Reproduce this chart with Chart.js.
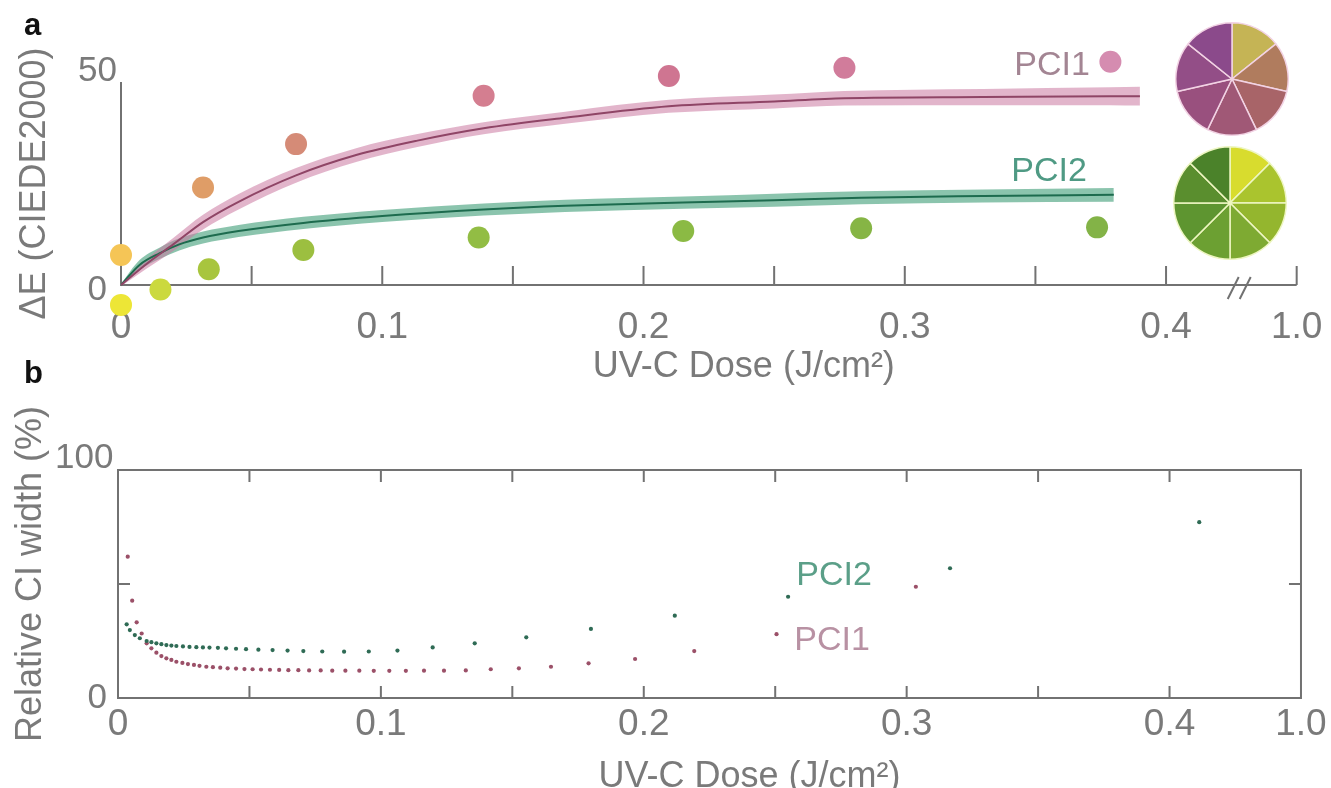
<!DOCTYPE html>
<html>
<head>
<meta charset="utf-8">
<script src="https://cdn.jsdelivr.net/npm/chart.js@4.4.1/dist/chart.umd.min.js"></script>
<style>
  html, body { margin: 0; padding: 0; background: #fff; overflow: hidden; }
  #page { position: relative; width: 1331px; height: 788px; overflow: hidden; background: #fff; }
  canvas { position: absolute; }
  .lbl { position: absolute; font-family: 'Liberation Sans', Arial, sans-serif; line-height: 1; white-space: nowrap; }
  .panel { font-weight: bold; font-size: 31px; color: #111; }
  .pci { font-size: 34px; transform: translate(-50%, -50%); }
</style>
</head>
<body>
<div id="page">
  <canvas id="chartA" width="1331" height="400" style="left:0;top:0"></canvas>
  <canvas id="chartB" width="1331" height="420" style="left:0;top:400px"></canvas>
  <canvas id="pie1" width="114" height="114" style="left:1175px;top:22px"></canvas>
  <canvas id="pie2" width="114" height="114" style="left:1173px;top:146px"></canvas>
  <div class="lbl panel" style="left:24px;top:9px">a</div>
  <div class="lbl panel" style="left:24px;top:357px">b</div>
  <div class="lbl pci" style="left:1052px;top:63px;color:#a38593">PCI1</div>
  <div class="lbl pci" style="left:1049px;top:169px;color:#4f9a84">PCI2</div>
  <div class="lbl pci" style="left:834px;top:573px;color:#5b9f88">PCI2</div>
  <div class="lbl pci" style="left:832px;top:638px;color:#b891a3">PCI1</div>
</div>
<script>
// x axis: 0..0.4 linear, the "1.0" tick sits after the axis break
const xTickValues = [0, 0.05, 0.1, 0.15, 0.2, 0.25, 0.3, 0.35, 0.4, 0.45]
const xTickLabels = ['0', '', '0.1', '', '0.2', '', '0.3', '', '0.4', '1.0']

// panel a - measured colour difference
const pci1DoseX = [0, 0.0314, 0.067, 0.1388, 0.2097, 0.2769, 0.3787]
const pci1DeltaE = [7.4, 24, 34.7, 46.6, 51.5, 53.5, 55]
const pci1Colors = ['#f5c556', '#df9d67', '#d58b77', '#d47e90', '#cf7591', '#d17c9b', '#d58cb0']
const pci2DoseX = [0, 0.0151, 0.0336, 0.0698, 0.1369, 0.2152, 0.2833, 0.3736]
const pci2DeltaE = [-4.9, -1.1, 3.9, 8.6, 11.7, 13.3, 14, 14.2]
const pci2Colors = ['#ede636', '#cbd93e', '#a8c53e', '#9cbf40', '#92bd44', '#8bba44', '#86b545', '#83b347']

// panel a - fitted curves with confidence band
const pci1FitX = [0, 0.01, 0.02, 0.0314, 0.045, 0.067, 0.09, 0.113, 0.1388, 0.17, 0.2097, 0.25, 0.2769, 0.33, 0.3787, 0.39]
const pci1FitY = [0, 5.3, 10, 15.5, 20.5, 27, 32, 35.5, 38.6, 41.2, 44, 45.2, 46, 46.3, 46.5, 46.5]
const pci1FitHi = [0.3, 6.5, 11.6, 17.3, 22.4, 28.8, 33.7, 37.1, 40.1, 42.7, 45.6, 46.9, 47.8, 48.3, 48.7, 48.8]
const pci1FitLo = [-0.3, 4.1, 8.4, 13.7, 18.6, 25.2, 30.3, 33.9, 37.1, 39.7, 42.4, 43.5, 44.2, 44.3, 44.3, 44.2]
const pci2FitX = [0, 0.0072, 0.0147, 0.0223, 0.0314, 0.045, 0.0698, 0.1, 0.1388, 0.17, 0.2152, 0.25, 0.2833, 0.33, 0.38]
const pci2FitY = [0, 5, 7.8, 10, 11.7, 13.3, 15.3, 17, 18.6, 19.5, 20.3, 20.9, 21.5, 21.9, 22.2]
const pci2FitHi = [0.3, 6.2, 9.2, 11.5, 13.2, 14.8, 16.8, 18.5, 20.1, 21, 21.8, 22.5, 23.1, 23.5, 23.9]
const pci2FitLo = [-0.3, 3.8, 6.4, 8.5, 10.2, 11.8, 13.8, 15.5, 17.1, 18, 18.8, 19.3, 19.9, 20.3, 20.5]

// panel b - relative CI width (%)
const pci1CiX = [0.0037, 0.0054, 0.0071, 0.009, 0.0109, 0.0127, 0.0146, 0.0165, 0.0184, 0.0203,
  0.0222, 0.0245, 0.0266, 0.0289, 0.031, 0.0336, 0.0361, 0.0389, 0.0417, 0.0449,
  0.0481, 0.0512, 0.0544, 0.0578, 0.0613, 0.0648, 0.0686, 0.0727, 0.0771, 0.0815,
  0.0865, 0.0918, 0.0973, 0.1032, 0.1095, 0.1164, 0.124, 0.1323, 0.1418, 0.1525,
  0.1647, 0.179, 0.1967, 0.2192, 0.2505, 0.3035]
const pci1CiY = [62, 42.7, 33.2, 28.3, 24, 21.8, 19.9, 18.4, 17.4, 16.7,
  15.9, 15.4, 14.9, 14.5, 14.1, 13.7, 13.5, 13.3, 13.0, 12.9,
  12.7, 12.6, 12.5, 12.4, 12.3, 12.2, 12.2, 12.1, 12.1, 12.0,
  12.0, 12.0, 11.9, 11.9, 11.9, 12.0, 12.0, 12.1, 12.6, 13.0,
  13.7, 15.2, 17.1, 20.6, 28.0, 48.8]
const pci2CiX = [0.0033, 0.0045, 0.0064, 0.0083, 0.0109, 0.0127, 0.0146, 0.0165, 0.0184, 0.0203,
  0.0222, 0.0247, 0.0272, 0.0298, 0.0323, 0.0348, 0.038, 0.0411, 0.0449, 0.0487,
  0.0534, 0.0588, 0.0645, 0.0705, 0.0777, 0.086, 0.0954, 0.1063, 0.1197, 0.1357,
  0.1553, 0.1799, 0.2118, 0.2549, 0.3165, 0.4113]
const pci2CiY = [32.3, 29.8, 27.6, 26.2, 25.0, 24.5, 24.0, 23.6, 23.2, 23.0,
  22.8, 22.6, 22.4, 22.3, 22.2, 22.1, 22.0, 21.8, 21.6, 21.4,
  21.2, 21.0, 20.8, 20.6, 20.4, 20.3, 20.4, 20.8, 22.2, 24.0,
  26.6, 30.3, 36.1, 44.4, 56.9, 77.1]

// colour wheels
const pie1Colors = ['#c5b455', '#b07c5e', '#a86468', '#a05876', '#99507e', '#934e87', '#8b4a8b']
const pie2Colors = ['#d8dc2e', '#aac42e', '#94b62e', '#7eaa32', '#6ca032', '#5e9530', '#5a8e2e', '#4b822a']

const font = 'Liberation Sans, Arial, sans-serif'
const axisColor = '#727272'
const textColor = '#7a7a7a'

function zip(xs, ys) {
	return xs.map((x, i) => ({x: x, y: ys[i]}))
}

// axis lines, inward tick marks, frame and axis break
const axisDecor = {
	id: 'axisDecor',
	beforeDatasetsDraw(chart, args, opts) {
		const ctx = chart.ctx
		const x = chart.scales.x, y = chart.scales.y
		const x0 = x.getPixelForValue(0), x1 = x.getPixelForValue(0.45)
		const y0 = y.getPixelForValue(opts.yRange[0]), y1 = y.getPixelForValue(opts.yRange[1])
		ctx.save()
		ctx.strokeStyle = axisColor
		ctx.lineWidth = 2
		ctx.beginPath()
		ctx.moveTo(x0, y1); ctx.lineTo(x0, y0); ctx.lineTo(x1, y0)
		if (opts.box) { ctx.lineTo(x1, y1); ctx.closePath() }
		opts.xTicks.forEach(v => {
			const px = x.getPixelForValue(v)
			ctx.moveTo(px, y0); ctx.lineTo(px, y0 - opts.len)
			if (opts.box) { ctx.moveTo(px, y1); ctx.lineTo(px, y1 + opts.len) }
		})
		opts.yTicks.forEach(v => {
			const py = y.getPixelForValue(v)
			ctx.moveTo(x0, py); ctx.lineTo(x0 + opts.len, py)
			if (opts.box) { ctx.moveTo(x1, py); ctx.lineTo(x1 - opts.len, py) }
		})
		if (opts.breakAt) {
			const bx = x.getPixelForValue(opts.breakAt)
			;[-6, 6].forEach(d => {
				ctx.moveTo(bx + d - 5.5, y0 + 14); ctx.lineTo(bx + d + 5.5, y0 - 8)
			})
		}
		ctx.stroke()
		ctx.restore()
	}
}

function xScale(height, tickPad, titlePad, spaces) {
	return {
		type: 'linear', min: 0, max: 0.45,
		afterBuildTicks: s => { s.ticks = xTickValues.map(v => ({value: v})) },
		afterFit: s => { s.height = height },
		grid: {display: false, drawTicks: false},
		border: {display: false},
		ticks: {
			autoSkip: false, maxRotation: 0, padding: tickPad, color: textColor,
			font: {size: 37, family: font},
			callback: (v, i) => xTickLabels[i]
		},
		title: {
			display: true, text: ' '.repeat(spaces) + 'UV-C Dose (J/cm²)', color: textColor,
			font: {size: 36, family: font}, padding: {top: 0, bottom: titlePad}
		}
	}
}

// "0" on the main axis, the top label on a mirrored helper axis (inner, zero width)
function yScales(min, max, top, width, lowPad, lowOff, highPad, highOff, title, titlePad) {
	return {
		y: {
			min: min, max: max, weight: 1,
			afterBuildTicks: s => { s.ticks = [{value: 0}] },
			afterFit: s => { s.width = width },
			grid: {display: false, drawTicks: false},
			border: {display: false},
			ticks: {padding: lowPad, labelOffset: lowOff, color: textColor, font: {size: 35, family: font}},
			title: {display: true, text: title, color: textColor, font: {size: 36, family: font}, padding: {top: titlePad, bottom: 0}}
		},
		y2: {
			position: 'left', min: min, max: max, weight: 0,
			afterBuildTicks: s => { s.ticks = [{value: top}] },
			afterFit: s => { s.width = 0 },
			grid: {display: false, drawTicks: false},
			border: {display: false},
			ticks: {mirror: true, padding: highPad, labelOffset: highOff, color: textColor, font: {size: 35, family: font}}
		}
	}
}

const bandLine = {type: 'line', borderColor: 'transparent', borderWidth: 1, pointRadius: 0, cubicInterpolationMode: 'monotone', order: 3}

new Chart('chartA', {
	type: 'scatter',
	data: {
		datasets: [
			Object.assign({}, bandLine, {data: zip(pci1FitX, pci1FitHi), fill: false}),
			Object.assign({}, bandLine, {data: zip(pci1FitX, pci1FitLo), fill: '-1', backgroundColor: 'rgba(203,120,160,0.55)'}),
			{type: 'line', data: zip(pci1FitX, pci1FitY), borderColor: '#8f4566', borderWidth: 2, pointRadius: 0, fill: false, cubicInterpolationMode: 'monotone', order: 2},
			Object.assign({}, bandLine, {data: zip(pci2FitX, pci2FitHi), fill: false}),
			Object.assign({}, bandLine, {data: zip(pci2FitX, pci2FitLo), fill: '-1', backgroundColor: 'rgba(62,156,118,0.6)'}),
			{type: 'line', data: zip(pci2FitX, pci2FitY), borderColor: '#1d6b4e', borderWidth: 2, pointRadius: 0, fill: false, cubicInterpolationMode: 'monotone', order: 2},
			{label: 'PCI1', data: zip(pci1DoseX, pci1DeltaE), backgroundColor: pci1Colors, pointRadius: 11, hoverRadius: 11, borderWidth: 0, clip: false, order: 1},
			{label: 'PCI2', data: zip(pci2DoseX, pci2DeltaE), backgroundColor: pci2Colors, pointRadius: 11, hoverRadius: 11, borderWidth: 0, clip: false, order: 1}
		]
	},
	options: {
		responsive: false, animation: false, events: [],
		layout: {padding: {top: 69.82, left: 0, right: 19.5, bottom: 0}},
		scales: Object.assign({x: xScale(102.82, 8.6, 11.4, 7)}, yScales(-3, 53, 50, 121, 14, 5.5, -43, -11, 'ΔE (CIEDE2000)', 13.4)),
		plugins: {
			legend: {display: false}, tooltip: {enabled: false},
			axisDecor: {yRange: [0, 50], xTicks: xTickValues.slice(1), yTicks: [], len: 19, box: false, breakAt: 0.428}
		}
	},
	plugins: [axisDecor]
})

new Chart('chartB', {
	type: 'scatter',
	data: {
		datasets: [
			{label: 'PCI2', data: zip(pci2CiX, pci2CiY), backgroundColor: '#2f6b55', pointRadius: 2.1, borderWidth: 0},
			{label: 'PCI1', data: zip(pci1CiX, pci1CiY), backgroundColor: '#9b5068', pointRadius: 2.1, borderWidth: 0}
		]
	},
	options: {
		responsive: false, animation: false, events: [],
		layout: {padding: {top: 70, left: 0, right: 24, bottom: 0}},
		scales: Object.assign({x: xScale(122, 4.3, 21.4, 8)}, yScales(0, 100, 100, 118, 11, 0.5, -63, -11.5, '  Relative CI width (%)', 9.4)),
		plugins: {
			legend: {display: false}, tooltip: {enabled: false},
			axisDecor: {yRange: [0, 100], xTicks: xTickValues.slice(1, -1), yTicks: [50], len: 12, box: true}
		}
	},
	plugins: [axisDecor]
})

function wheel(id, colors, lineColor) {
	new Chart(id, {
		type: 'pie',
		data: {datasets: [{data: colors.map(() => 1), backgroundColor: colors, borderColor: lineColor, borderWidth: 1.5}]},
		options: {
			responsive: false, animation: false, events: [],
			layout: {padding: 0},
			plugins: {legend: {display: false}, tooltip: {enabled: false}}
		}
	})
}
wheel('pie1', pie1Colors, '#f2d3e4')
wheel('pie2', pie2Colors, '#eef6c2')
</script>
</body>
</html>
